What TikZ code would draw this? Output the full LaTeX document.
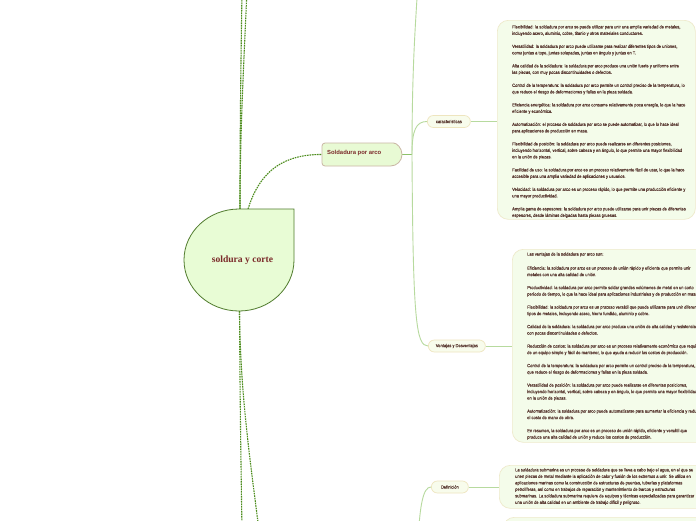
\documentclass[tikz,border=0pt]{standalone}
\usepackage{fontspec}
\setmainfont{Liberation Sans}
\newfontfamily\boxfont[FakeStretch=0.88,FakeBold=0.35]{Liberation Sans}
\newfontfamily\titlefont{Liberation Serif}
\usetikzlibrary{shapes.misc}
\definecolor{cfill}{HTML}{E8FCD5}
\definecolor{cborder}{HTML}{4F7A2C}
\definecolor{afill}{HTML}{E8FAD4}
\definecolor{aborder}{HTML}{C9B6A4}
\definecolor{pfill}{HTML}{F8FCEC}
\definecolor{pborder}{HTML}{EEE5BF}
\definecolor{bfill}{HTML}{F4FCEA}
\definecolor{bborder}{HTML}{EEEACB}
\definecolor{branchc}{HTML}{B7DA9E}
\definecolor{stubc}{HTML}{8DC26A}
\definecolor{dgreen}{HTML}{4C8C1C}
\definecolor{txt}{HTML}{5A3A32}
\definecolor{titlec}{HTML}{7B2A2A}
\begin{document}
\begin{tikzpicture}[x=1pt,y=-1pt,
  dashline/.style={draw=dgreen,line width=1.1pt,dash pattern=on 1.6pt off 0.9pt},
  branch/.style={draw=branchc,line width=0.9pt},
  stub/.style={draw=stubc,line width=0.9pt},
  pill/.style={rounded rectangle,draw=pborder,fill=pfill,line width=0.7pt,minimum height=12pt,inner sep=0pt,anchor=west,text=txt,font=\boxfont\fontsize{4.6}{5}\selectfont},
  infobox/.style={draw=bborder,fill=bfill,line width=0.7pt,rounded corners=11pt,anchor=north west,inner sep=0pt},
  boxtext/.style={inner sep=0pt,align=left,anchor=west,text=txt,font=\boxfont\fontsize{4.6}{6.5}\selectfont}
]
\clip (0,0) rectangle (696,520);
\fill[white] (0,0) rectangle (696,520);

% off-canvas ends
\coordinate (up1) at (242,-10);
\coordinate (up2) at (247,-10);
\coordinate (dn1) at (242,530);
\coordinate (dn2) at (259,530);
\coordinate (arcoUp) at (418,-20);
\coordinate (defDown) at (418,540);
\coordinate (junc) at (412,154.5);

% central node anchors
\coordinate (ctopA) at (240,209);
\coordinate (ctopB) at (248,209);
\coordinate (cbot) at (239.5,311);

% dashed main connectors
\draw[dashline] (ctopA) .. controls (240,120) and (241,60) .. (up1);
\draw[dashline] (ctopA) .. controls (240,130) and (244,60) .. (up2);
\draw[dashline] (cbot) .. controls (240,400) and (241,470) .. (dn1);
\draw[dashline] (cbot) .. controls (240,390) and (250,460) .. (dn2);

% Soldadura por arco
\node[inner sep=0pt,minimum width=80pt,minimum height=23pt,anchor=west] (arco) at (322,154.5) {};
\draw[stub] (arco.east) -- (junc);
\draw[dashline] (ctopB) .. controls (256,184) and (272,154) .. (arco.west);
\draw[draw=aborder,fill=afill,line width=0.8pt] (390.5,143) arc[start angle=270,end angle=450,radius=11.5] [rounded corners=3pt] -- (322,166) -- (322,143) -- cycle;
\node[anchor=west,inner sep=0pt,text=titlec,font=\bfseries\fontsize{5.9}{6}\selectfont] (arcotxt) at (327,152.5) {Soldadura por arco};

% central teardrop
\draw[draw=cborder,fill=cfill,line width=0.8pt] (294,209) -- (294,260)
  arc[start angle=0,end angle=90,x radius=55,y radius=51]
  arc[start angle=90,end angle=180,x radius=55,y radius=51]
  arc[start angle=180,end angle=270,x radius=55,y radius=51] -- cycle;
\node[text=titlec,font=\titlefont\bfseries\fontsize{9.6}{10}\selectfont,inner sep=0pt] (central) at (242.5,260) {soldura y corte};

% child pills
\node[pill,minimum width=43pt] (car) at (427,121.5) {caracteristicas};
\node[pill,minimum width=57pt] (ven) at (428,346) {Ventajas y Desventajas};
\node[pill,minimum width=37pt] (def) at (431,487) {Definición};

% branches
\draw[branch] (junc) .. controls (412,60) and (416,20) .. (arcoUp);
\draw[branch] (junc) .. controls (412,130) and (416,121.5) .. (car.west);
\draw[branch] (junc) .. controls (413,320) and (416,346) .. (ven.west);
\draw[branch] (def.west) .. controls (423,487) and (420,505) .. (defDown);

% info boxes
\node[infobox,minimum width=198pt,minimum height=199pt] (boxcar) at (497,20) {};
\node[infobox,minimum width=220pt,minimum height=193pt] (boxven) at (512,249) {};
\node[infobox,minimum width=210pt,minimum height=43pt] (boxdef) at (499,465) {};
\node[infobox,minimum width=210pt,minimum height=43pt] (boxnext) at (503,517) {};

\draw[branch] (car.east) -- (boxcar.west |- car.east);
\draw[branch] (ven.east) -- (boxven.west |- ven.east);
\draw[branch] (def.east) -- (boxdef.west |- def.east);

\node[boxtext] (tcar) at (512,121.5) {%
Flexibilidad: la soldadura por arco se puede utilizar para unir una amplia variedad de metales,\\
incluyendo acero, aluminio, cobre, titanio y otros materiales conductores.\\[6.5pt]
Versatilidad: la soldadura por arco puede utilizarse para realizar diferentes tipos de uniones,\\
como juntas a tope, juntas solapadas, juntas en ángulo y juntas en T.\\[6.5pt]
Alta calidad de la soldadura: la soldadura por arco produce una unión fuerte y uniforme entre\\
las piezas, con muy pocas discontinuidades o defectos.\\[6.5pt]
Control de la temperatura: la soldadura por arco permite un control preciso de la temperatura, lo\\
que reduce el riesgo de deformaciones y fallas en la pieza soldada.\\[6.5pt]
Eficiencia energética: la soldadura por arco consume relativamente poca energía, lo que la hace\\
eficiente y económica.\\[6.5pt]
Automatización: el proceso de soldadura por arco se puede automatizar, lo que lo hace ideal\\
para aplicaciones de producción en masa.\\[6.5pt]
Flexibilidad de posición: la soldadura por arco puede realizarse en diferentes posiciones,\\
incluyendo horizontal, vertical, sobre cabeza y en ángulo, lo que permite una mayor flexibilidad\\
en la unión de piezas.\\[6.5pt]
Facilidad de uso: la soldadura por arco es un proceso relativamente fácil de usar, lo que la hace\\
accesible para una amplia variedad de aplicaciones y usuarios.\\[6.5pt]
Velocidad: la soldadura por arco es un proceso rápido, lo que permite una producción eficiente y\\
una mayor productividad.\\[6.5pt]
Amplia gama de espesores: la soldadura por arco puede utilizarse para unir piezas de diferentes\\
espesores, desde láminas delgadas hasta piezas gruesas.};

\node[boxtext] (tven) at (527,346) {%
Las ventajas de la soldadura por arco son:\\[7.5pt]
Eficiencia: la soldadura por arco es un proceso de unión rápido y eficiente que permite unir\\
metales con una alta calidad de unión.\\[6.5pt]
Productividad: la soldadura por arco permite soldar grandes volúmenes de metal en un corto\\
período de tiempo, lo que la hace ideal para aplicaciones industriales y de producción en masa.\\[6.5pt]
Flexibilidad: la soldadura por arco es un proceso versátil que puede utilizarse para unir diferentes\\
tipos de metales, incluyendo acero, hierro fundido, aluminio y cobre.\\[6.5pt]
Calidad de la soldadura: la soldadura por arco produce una unión de alta calidad y resistencia,\\
con pocas discontinuidades o defectos.\\[6.5pt]
Reducción de costos: la soldadura por arco es un proceso relativamente económico que requiere\\
de un equipo simple y fácil de mantener, lo que ayuda a reducir los costos de producción.\\[6.5pt]
Control de la temperatura: la soldadura por arco permite un control preciso de la temperatura, lo\\
que reduce el riesgo de deformaciones y fallas en la pieza soldada.\\[6.5pt]
Versatilidad de posición: la soldadura por arco puede realizarse en diferentes posiciones,\\
incluyendo horizontal, vertical, sobre cabeza y en ángulo, lo que permite una mayor flexibilidad\\
en la unión de piezas.\\[6.5pt]
Automatización: la soldadura por arco puede automatizarse para aumentar la eficiencia y reducir\\
el costo de mano de obra.\\[6.5pt]
En resumen, la soldadura por arco es un proceso de unión rápido, eficiente y versátil que\\
produce una alta calidad de unión y reduce los costos de producción.};

\node[boxtext] (tdef) at (515,486.5) {%
La soldadura submarina es un proceso de soldadura que se lleva a cabo bajo el agua, en el que se\\
unen piezas de metal mediante la aplicación de calor y fusión de los extremos a unir. Se utiliza en\\
aplicaciones marinas como la construcción de estructuras de puentes, tuberías y plataformas\\
petrolíferas, así como en trabajos de reparación y mantenimiento de barcos y estructuras\\
submarinas. La soldadura submarina requiere de equipos y técnicas especializadas para garantizar\\
una unión de alta calidad en un ambiente de trabajo difícil y peligroso.};
\end{tikzpicture}
\end{document}
